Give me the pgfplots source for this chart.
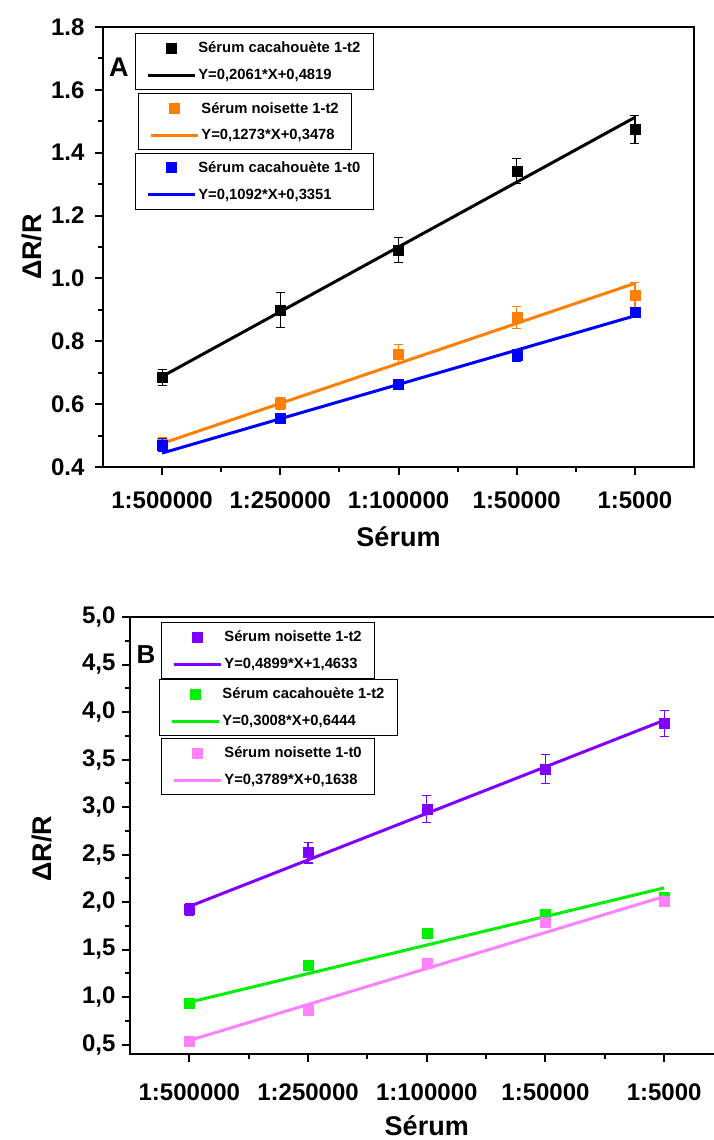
\documentclass[border=0pt]{standalone}
\usepackage{pgfplots}
\usepackage{pgfplotstable}
\pgfplotsset{compat=1.18}
\usepackage{fontspec}
\setmainfont{Liberation Sans}
\definecolor{cOrange}{RGB}{255,128,0}
\definecolor{cBlue}{RGB}{0,0,255}
\definecolor{cPurple}{RGB}{128,0,255}
\definecolor{cGreen}{RGB}{0,240,0}
\definecolor{cPink}{RGB}{255,128,255}

% Panel A data
\pgfplotstableread{
x y e
0 0.685 0.025
1 0.900 0.055
2 1.090 0.040
3 1.342 0.040
4 1.474 0.045
}\datBlackA
\pgfplotstableread{
x y e
0 0.474 0.020
1 0.602 0.020
2 0.760 0.030
3 0.876 0.035
4 0.947 0.040
}\datOrangeA
\pgfplotstableread{
x y e
0 0.470 0.020
1 0.556 0.012
2 0.665 0.012
3 0.755 0.020
4 0.892 0.012
}\datBlueA
% Panel B data
\pgfplotstableread{
x y e
0 1.92 0.065
1 2.52 0.110
2 2.98 0.145
3 3.40 0.150
4 3.88 0.140
}\datPurpleB
\pgfplotstableread{
x y e
0 0.94 0.02
1 1.33 0.02
2 1.67 0.02
3 1.87 0.02
4 2.05 0.02
}\datGreenB
\pgfplotstableread{
x y e
0 0.54 0.02
1 0.86 0.02
2 1.36 0.02
3 1.79 0.02
4 2.01 0.02
}\datPinkB

\pgfplotsset{
  basepanel/.style={
    scale only axis,
    xmin=-0.5, xmax=4.5,
    xtick={0,1,2,3,4},
    xticklabels={1:500000,1:250000,1:100000,1:50000,1:5000},
    minor x tick num=1,
    minor y tick num=1,
    tick align=outside,
    xtick pos=bottom, ytick pos=left,
    axis line style={line width=2.4pt},
    major tick length=8pt, minor tick length=5pt,
    every tick/.style={line width=2pt, black},
    ticklabel style={font=\fontsize{24}{24}\selectfont\bfseries},
    /pgf/number format/assume math mode=true,
    label style={font=\fontsize{27}{27}\selectfont\bfseries},
    legend cell align=left,
    legend image code/.code={\draw[mark repeat=2,mark phase=2,##1] plot coordinates {(0pt,0pt)(23.5pt,0pt)(47pt,0pt)};},
    legend style={anchor=north west, draw=black, line width=0.8pt,
      inner xsep=11pt, inner ysep=6.5pt, row sep=11pt,
      font=\fontsize{14.8}{14.8}\selectfont\bfseries,
      nodes={inner sep=2pt}},
  },
  panelA/.style={basepanel, width=591pt, height=440pt, ymin=0.4, ymax=1.8},
  panelB/.style={basepanel, width=593.5pt, height=437pt, ymin=0.4, ymax=5.0},
  pts/.style={only marks, mark=square*, mark size=5pt, color=#1,
    error bars/.cd, y dir=both, y explicit,
    error bar style={line width=1.2pt, color=#1},
    error mark options={rotate=90, mark size=4.5pt, line width=1.2pt, color=#1}},
  fit/.style={color=#1, line width=3pt, no marks},
}

\begin{document}
\begin{tikzpicture}
% ---------------- Panel A ----------------
\begin{axis}[panelA, at={(103pt,-467pt)}, anchor=south west,
  ytick={0.4,0.6,0.8,1.0,1.2,1.4,1.6,1.8},
  yticklabel style={/pgf/number format/.cd, fixed, fixed zerofill, precision=1, /tikz/xshift=-7pt},
  xticklabel style={yshift=-13pt},
  ylabel={ΔR/R},
  ylabel style={at={(axis description cs:-0.12,0.5)}, anchor=center},
  xlabel={Sérum},
  xlabel style={at={(axis description cs:0.5,-0.159)}, anchor=center},
  legend style={at={(0.0541,0.9863)}}]
\addplot[pts=black] table[x=x, y=y, y error=e] {\datBlackA};
\addlegendentry{Sérum cacahouète 1-t2}
\addplot[fit=black] coordinates {(0,0.6880) (1,0.8941) (2,1.1002) (3,1.3063) (4,1.5124)};
\addlegendentry{Y=0,2061*X+0,4819}
\node[font=\fontsize{27}{27}\selectfont\bfseries] at (rel axis cs:0.027,0.909) {A};
\end{axis}
\begin{axis}[panelA, hide axis, at={(103pt,-467pt)}, anchor=south west,
  legend style={at={(0.0592,0.8493)}}]
\addplot[pts=cOrange] table[x=x, y=y, y error=e] {\datOrangeA};
\addlegendentry{Sérum noisette 1-t2}
\addplot[fit=cOrange] coordinates {(0,0.4751) (1,0.6024) (2,0.7297) (3,0.8570) (4,0.9843)};
\addlegendentry{Y=0,1273*X+0,3478}
\end{axis}
\begin{axis}[panelA, hide axis, at={(103pt,-467pt)}, anchor=south west,
  legend style={at={(0.0541,0.7146)}}]
\addplot[pts=cBlue] table[x=x, y=y, y error=e] {\datBlueA};
\addlegendentry{Sérum cacahouète 1-t0}
\addplot[fit=cBlue] coordinates {(0,0.4443) (1,0.5535) (2,0.6627) (3,0.7719) (4,0.8811)};
\addlegendentry{Y=0,1092*X+0,3351}
\end{axis}

% ---------------- Panel B ----------------
\begin{axis}[panelB, at={(130pt,-1054pt)}, anchor=south west,
  ytick={0.5,1.0,1.5,2.0,2.5,3.0,3.5,4.0,4.5,5.0},
  yticklabel style={/pgf/number format/.cd, fixed, fixed zerofill, precision=1, use comma, /tikz/xshift=-3pt},
  xticklabel style={yshift=-18pt},
  ylabel={ΔR/R},
  ylabel style={at={(axis description cs:-0.148,0.47)}, anchor=center},
  xlabel={Sérum},
  xlabel style={at={(axis description cs:0.5,-0.165)}, anchor=center},
  legend style={at={(0.0522,0.9886)}}]
\addplot[pts=cPurple] table[x=x, y=y, y error=e] {\datPurpleB};
\addlegendentry{Sérum noisette 1-t2}
\addplot[fit=cPurple] coordinates {(0,1.9532) (1,2.4431) (2,2.9330) (3,3.4229) (4,3.9128)};
\addlegendentry{Y=0,4899*X+1,4633}
\node[font=\fontsize{26}{26}\selectfont\bfseries] at (rel axis cs:0.027,0.915) {B};
\end{axis}
\begin{axis}[panelB, hide axis, at={(130pt,-1054pt)}, anchor=south west,
  legend style={at={(0.0489,0.8581)}}]
\addplot[pts=cGreen] table[x=x, y=y] {\datGreenB};
\addlegendentry{Sérum cacahouète 1-t2}
\addplot[fit=cGreen] coordinates {(0,0.9452) (1,1.2460) (2,1.5468) (3,1.8476) (4,2.1484)};
\addlegendentry{Y=0,3008*X+0,6444}
\end{axis}
\begin{axis}[panelB, hide axis, at={(130pt,-1054pt)}, anchor=south west,
  legend style={at={(0.0522,0.7231)}}]
\addplot[pts=cPink] table[x=x, y=y] {\datPinkB};
\addlegendentry{Sérum noisette 1-t0}
\addplot[fit=cPink] coordinates {(0,0.5427) (1,0.9216) (2,1.3005) (3,1.6794) (4,2.0583)};
\addlegendentry{Y=0,3789*X+0,1638}
\end{axis}

\pgfresetboundingbox
\path[use as bounding box] (0pt,0pt) rectangle (714pt,-1140pt);
\end{tikzpicture}
\end{document}
